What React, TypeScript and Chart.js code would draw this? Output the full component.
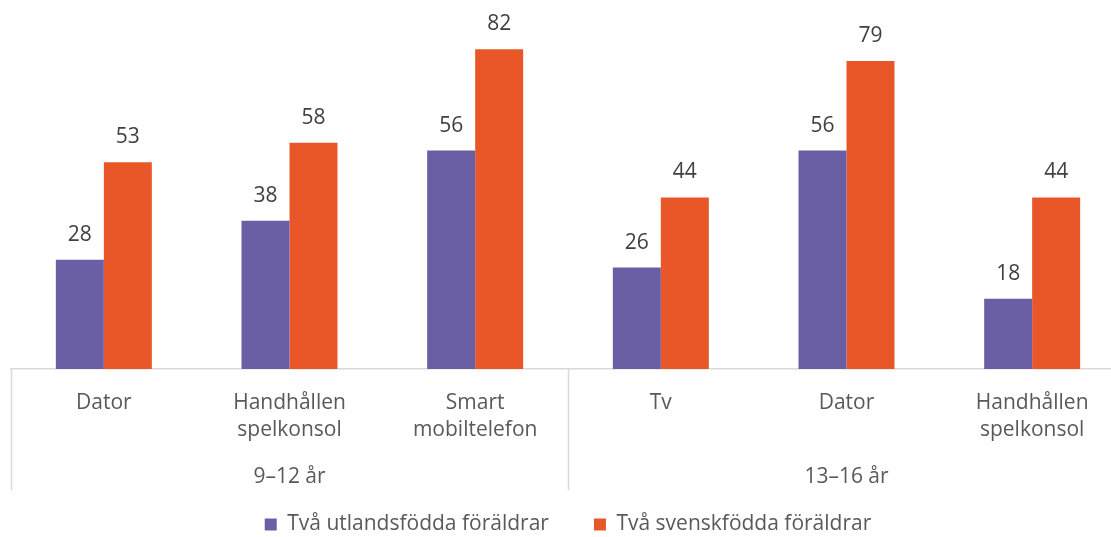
import React, { useEffect, useRef } from "react";
import { Chart, registerables } from "chart.js";

Chart.register(...registerables);

const categories: string[][] = [
  ["Dator"],
  ["Handhållen", "spelkonsol"],
  ["Smart", "mobiltelefon"],
  ["Tv"],
  ["Dator"],
  ["Handhållen", "spelkonsol"],
];
const groups = ["9–12 år", "13–16 år"];
const groupSizes = [3, 3];
const seriesNames = ["Två utlandsfödda föräldrar", "Två svenskfödda föräldrar"];
const utlandsfodda = [28, 38, 56, 26, 56, 18];
const svenskfodda = [53, 58, 82, 44, 79, 44];

const FONT = "'Open Sans', 'Noto Sans', sans-serif";
const FS = 21;
const PURPLE = "#6A5EA4";
const ORANGE = "#E95729";
const LINE = "#D9D9D9";

const overlayPlugin = {
  id: "overlay",
  afterDraw(chart: any) {
    const { ctx, chartArea } = chart;
    const x = chart.scales.x;
    const bottom = chartArea.bottom;
    const lineEnd = 490;
    ctx.save();
    ctx.strokeStyle = LINE;
    ctx.lineWidth = 1.5;
    let idx = 0;
    const bounds: number[] = [];
    const half = (x.getPixelForValue(1) - x.getPixelForValue(0)) / 2;
    bounds.push(x.getPixelForValue(0) - half);
    groupSizes.forEach((n) => {
      idx += n;
      bounds.push(x.getPixelForValue(idx - 1) + half);
    });
    bounds.forEach((bx) => {
      ctx.beginPath();
      ctx.moveTo(Math.round(bx) + 0.5, bottom);
      ctx.lineTo(Math.round(bx) + 0.5, lineEnd);
      ctx.stroke();
    });
    ctx.fillStyle = "#595959";
    ctx.font = `${FS}px ${FONT}`;
    ctx.textAlign = "center";
    ctx.textBaseline = "middle";
    let start = 0;
    groups.forEach((g, i) => {
      const n = groupSizes[i];
      const cx = (x.getPixelForValue(start) + x.getPixelForValue(start + n - 1)) / 2;
      ctx.fillText(g, cx, 477);
      start += n;
    });
    ctx.fillStyle = "#404040";
    chart.data.datasets.forEach((ds: any, di: number) => {
      const meta = chart.getDatasetMeta(di);
      meta.data.forEach((bar: any, i: number) => {
        ctx.fillText(String(ds.data[i]), bar.x, bar.y - 25);
      });
    });
    ctx.restore();
  },
};

export default function App() {
  const ref = useRef<HTMLCanvasElement>(null);
  useEffect(() => {
    if (!ref.current) return;
    const chart = new Chart(ref.current, {
      type: "bar",
      data: {
        labels: categories,
        datasets: [
          { label: seriesNames[0], data: utlandsfodda, backgroundColor: PURPLE },
          { label: seriesNames[1], data: svenskfodda, backgroundColor: ORANGE },
        ],
      },
      options: {
        responsive: false,
        animation: false,
        devicePixelRatio: 1,
        layout: { padding: { left: 11, right: 0, top: 18, bottom: 0 } },
        datasets: { bar: { categoryPercentage: 0.517, barPercentage: 1 } },
        scales: {
          x: {
            grid: { display: false, drawTicks: false },
            border: { display: true, color: LINE, width: 1.5 },
            ticks: {
              color: "#595959",
              font: { family: FONT, size: FS, lineHeight: 1.3 },
              padding: 20.5,
              maxRotation: 0,
              autoSkip: false,
            },
            afterFit: (s: any) => {
              s.height = 100;
            },
          },
          y: { display: false, min: 0, max: 90 },
        },
        plugins: {
          legend: {
            position: "bottom",
            labels: {
              color: "#595959",
              font: { family: FONT, size: FS },
              boxWidth: 12,
              boxHeight: 12,
              padding: 45,
            },
          },
          tooltip: { enabled: false },
        },
      },
      plugins: [overlayPlugin],
    });
    return () => chart.destroy();
  }, []);
  return (
    <div style={{ position: "fixed", left: 0, top: 0, width: 1111, height: 537, overflow: "hidden", background: "#fff" }}>
      <canvas ref={ref} width={1125} height={545} style={{ display: "block", width: 1125, height: 545 }} />
    </div>
  );
}
